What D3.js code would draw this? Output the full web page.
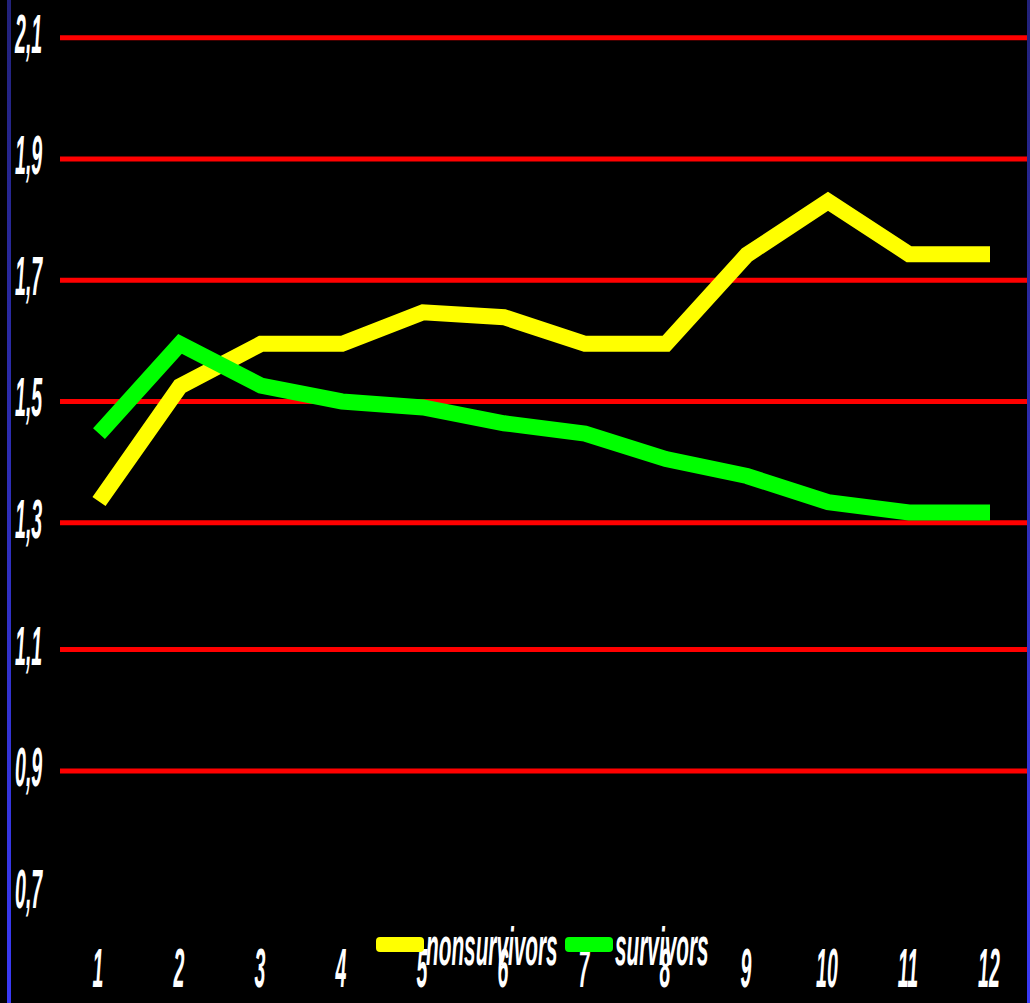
<!DOCTYPE html>
<html>
<head>
<meta charset="utf-8">
<script src="https://cdn.jsdelivr.net/npm/d3@7"></script>
<style>
  html, body { margin: 0; padding: 0; background: #000; }
  svg { display: block; }
</style>
</head>
<body>
<div id="chart"></div>
<script>

// Data.
var categories = [ 1, 2, 3, 4, 5, 6, 7, 8, 9, 10, 11, 12 ];
var nonsurvivors = [ 1.335, 1.525, 1.595, 1.595, 1.647, 1.639, 1.595, 1.595, 1.742, 1.83, 1.743, 1.743 ];
var survivors = [ 1.447, 1.595, 1.526, 1.50, 1.49, 1.464, 1.447, 1.405, 1.377, 1.334, 1.317, 1.317 ];
var y_ticks = [ 0.7, 0.9, 1.1, 1.3, 1.5, 1.7, 1.9, 2.1 ];
var series_names = [ 'nonsurvivors', 'survivors' ];
var series_colors = [ '#ffff00', '#00ff00' ];

var width = 1030;
var height = 1003;
var label_style = 'font-family: "Liberation Sans", Arial, sans-serif; font-weight: bold; font-style: italic; fill: #fff;';

var svg = d3.select( '#chart' )
  .append( 'svg' )
    .attr( 'width', width )
    .attr( 'height', height );

svg.append( 'rect' )
  .attr( 'width', width )
  .attr( 'height', height )
  .attr( 'fill', '#000' );

// Blue side borders, darker at the top.
var grad = svg.append( 'defs' ).append( 'linearGradient' )
  .attr( 'id', 'edge' )
  .attr( 'x1', 0 ).attr( 'y1', 0 ).attr( 'x2', 0 ).attr( 'y2', 1 );
grad.append( 'stop' ).attr( 'offset', '0%' ).attr( 'stop-color', '#22227a' );
grad.append( 'stop' ).attr( 'offset', '100%' ).attr( 'stop-color', '#3a3af5' );
svg.append( 'rect' ).attr( 'x', 7 ).attr( 'y', 0 ).attr( 'width', 4 ).attr( 'height', height ).attr( 'fill', 'url(#edge)' );
svg.append( 'rect' ).attr( 'x', 1027 ).attr( 'y', 0 ).attr( 'width', 3 ).attr( 'height', height ).attr( 'fill', 'url(#edge)' );

// Scales. The y scale is slightly uneven in the original, so it is piecewise.
var x_scale = d3.scalePoint()
  .domain( categories )
  .range( [ 99, 990 ] );
var y_scale = d3.scaleLinear()
  .domain( [ 0.7, 1.1, 1.3, 2.1 ] )
  .range( [ 892.5, 649.5, 522.7, 37.7 ] );

// Red gridlines.
svg.append( 'g' )
  .selectAll( 'line' )
  .data( y_ticks.filter( function( d ){ return d > 0.7 } ) )
  .enter()
  .append( 'line' )
    .attr( 'x1', 60 )
    .attr( 'x2', 1027 )
    .attr( 'y1', function( d ){ return y_scale( d ) } )
    .attr( 'y2', function( d ){ return y_scale( d ) } )
    .attr( 'stroke', '#ff0000' )
    .attr( 'stroke-width', 5 );

// Y tick labels, with a decimal comma.
svg.append( 'g' )
  .selectAll( 'text' )
  .data( y_ticks )
  .enter()
  .append( 'text' )
    .attr( 'transform', function( d ){ return 'translate(15,' + ( y_scale( d ) + 15 ) + ') scale(0.35,1)' } )
    .attr( 'style', label_style + ' font-size: 56px;' )
    .text( function( d ){ return d.toFixed( 1 ).replace( '.', ',' ) } );

// X tick labels.
svg.append( 'g' )
  .selectAll( 'text' )
  .data( categories )
  .enter()
  .append( 'text' )
    .attr( 'transform', function( d ){ return 'translate(' + ( x_scale( d ) - 1 ) + ',987) scale(0.35,1)' } )
    .attr( 'text-anchor', 'middle' )
    .attr( 'style', label_style + ' font-size: 56px;' )
    .text( function( d ){ return d } );

// The two lines.
var line = d3.line()
  .x( function( d, i ){ return x_scale( categories[ i ] ) } )
  .y( function( d ){ return y_scale( d ) } );

svg.append( 'g' )
  .selectAll( 'path' )
  .data( [ nonsurvivors, survivors ] )
  .enter()
  .append( 'path' )
    .attr( 'd', line )
    .attr( 'fill', 'none' )
    .attr( 'stroke', function( d, i ){ return series_colors[ i ] } )
    .attr( 'stroke-width', 16 )
    .attr( 'stroke-linejoin', 'miter' )
    .attr( 'stroke-linecap', 'butt' );

// Legend, drawn over the x labels like in the original.
var legend_x = [ 376, 565 ];
var legend = svg.append( 'g' )
  .selectAll( 'g' )
  .data( series_names )
  .enter()
  .append( 'g' )
    .attr( 'transform', function( d, i ){ return 'translate(' + legend_x[ i ] + ',0)' } );
legend.append( 'rect' )
  .attr( 'x', 0 )
  .attr( 'y', 937 )
  .attr( 'width', 48 )
  .attr( 'height', 15 )
  .attr( 'rx', 4 )
  .attr( 'fill', function( d, i ){ return series_colors[ i ] } );
legend.append( 'text' )
  .attr( 'transform', 'translate(50,965) scale(0.385,1)' )
  .attr( 'style', label_style + ' font-size: 54px;' )
  .text( function( d ){ return d } );

</script>
</body>
</html>
